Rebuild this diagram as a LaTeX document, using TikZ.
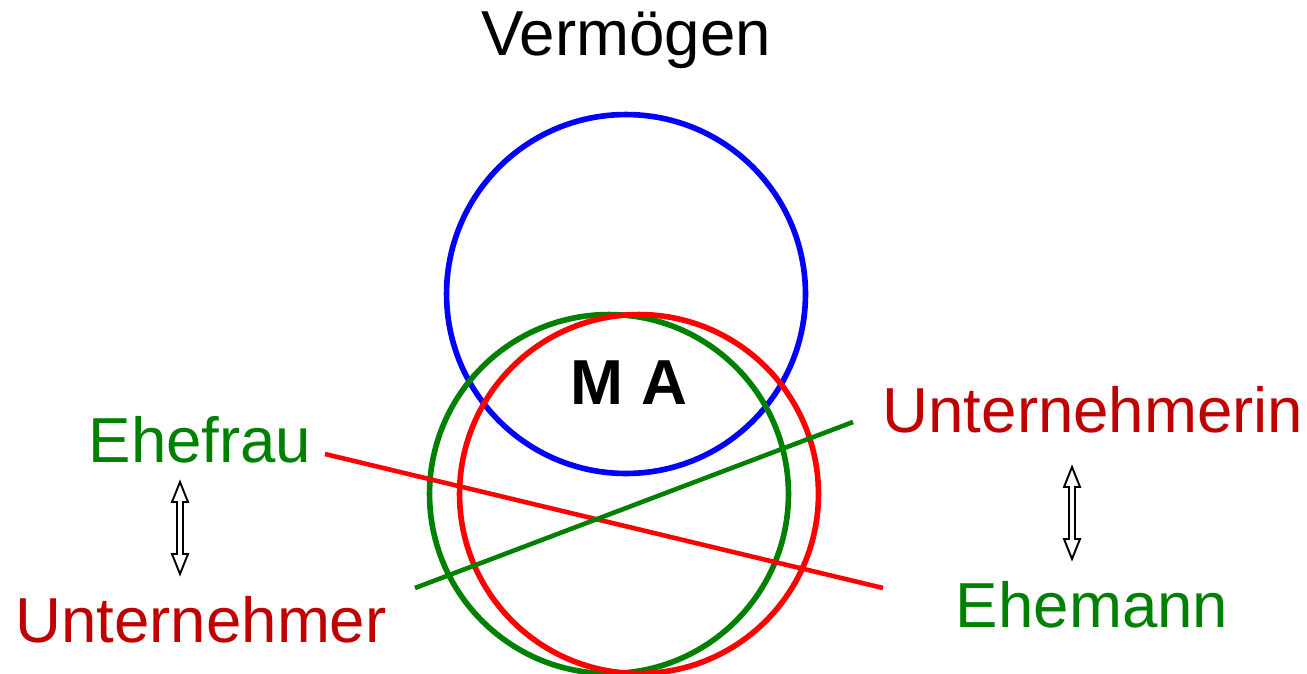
\documentclass[tikz,border=0pt]{standalone}
\usepackage{fontspec}
\setmainfont{Liberation Sans}
\usepackage{xcolor}
\usetikzlibrary{positioning}

\definecolor{textgreen}{RGB}{0,128,0}
\definecolor{textred}{RGB}{192,0,0}

\begin{document}
\begin{tikzpicture}[
    x=0.02cm, y=-0.02cm,
    label/.style={inner sep=0pt, font=\fontsize{36.2}{40}\selectfont},
    wife/.style={label, text=textgreen},
    owner/.style={label, text=textred},
    ring/.style={circle, draw, line width=3.2pt, minimum size=7.18cm, inner sep=0pt},
    cross/.style={line width=2.6pt},
    swap/.pic={
        \draw[line width=1.1pt, fill=white]
            (0,-46) -- (8,-26) -- (3,-26) -- (3,26) -- (8,26) -- (0,46)
            -- (-8,26) -- (-3,26) -- (-3,-26) -- (-8,-26) -- cycle;
    },
]
\useasboundingbox (0,0) rectangle (1307,673);

% Circles
\node[ring, draw=blue] (assets) at (626,294) {};
\node[ring, draw=textgreen] (wifering) at (609,494) {};
\node[ring, draw=red] (ownerring) at (639,494) {};

% Labels
\node[label] (title) at (626,40) {Vermögen};
\node[label, font=\fontsize{36.2}{40}\selectfont\bfseries] (ma) at (629,383) {M A};
\node[wife] (ehefrau) at (200,440) {Ehefrau};
\node[owner] (unternehmer) at (201,620) {Unternehmer};
\node[owner] (unternehmerin) at (1093,410) {Unternehmerin};
\node[wife] (ehemann) at (1092,605) {Ehemann};

% Crossing lines
\coordinate (r1) at (325,454);
\coordinate (r2) at (883,588);
\coordinate (g1) at (415,588);
\coordinate (g2) at (853,422);
\draw[cross, red] (r1) -- (r2);
\draw[cross, textgreen] (g1) -- (g2);

% Double arrows
\pic at (180,528) {swap};
\pic at (1072,513) {swap};

\end{tikzpicture}
\end{document}
